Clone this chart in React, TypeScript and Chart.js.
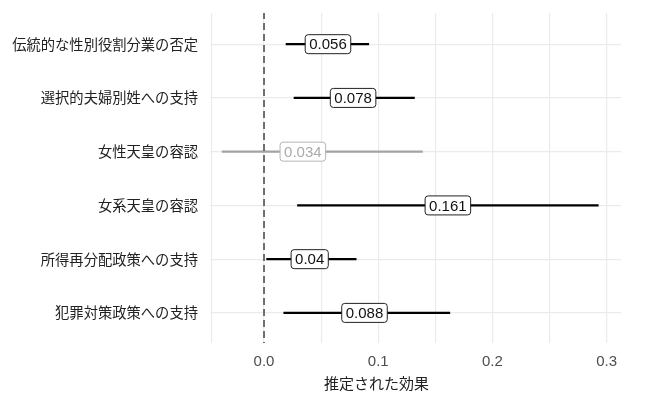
import React, { useEffect, useRef } from 'react';
import { Chart, registerables } from 'chart.js';

Chart.register(...registerables);

const categories = [
  '伝統的な性別役割分業の否定',
  '選択的夫婦別姓への支持',
  '女性天皇の容認',
  '女系天皇の容認',
  '所得再分配政策への支持',
  '犯罪対策政策への支持',
];
const estimates = [0.056, 0.078, 0.034, 0.161, 0.04, 0.088];
const lower = [0.019, 0.026, -0.037, 0.029, 0.002, 0.017];
const upper = [0.092, 0.132, 0.139, 0.293, 0.081, 0.163];
const significant = [true, true, false, true, true, true];
const xTicks = [-0.0455, 0, 0.05, 0.1, 0.15, 0.2, 0.25, 0.3];
const xTickLabels = ['', '0.0', '', '0.1', '', '0.2', '', '0.3'];
const xTitle = '推定された効果';

const labelFont = '15px "Liberation Sans", Arial, sans-serif';
const cjkFont = '"Noto Sans CJK JP", sans-serif';

// boxed value labels drawn on top of the estimate points
const valueLabels = {
  id: 'valueLabels',
  afterDatasetsDraw(chart: Chart) {
    const idx = chart.data.datasets.findIndex((d: any) => d.label === 'estimates');
    const meta = chart.getDatasetMeta(idx);
    const ctx = chart.ctx;
    ctx.save();
    ctx.font = labelFont;
    ctx.textAlign = 'center';
    ctx.textBaseline = 'middle';
    meta.data.forEach((el: any, i: number) => {
      const text = String(estimates[i]);
      const w = ctx.measureText(text).width + 8;
      const h = 19;
      const dark = significant[i];
      ctx.beginPath();
      ctx.roundRect(el.x - w / 2, el.y - h / 2, w, h, 3);
      ctx.fillStyle = '#ffffff';
      ctx.fill();
      ctx.lineWidth = 1;
      ctx.strokeStyle = dark ? '#222222' : '#b5b5b5';
      ctx.stroke();
      ctx.fillStyle = dark ? '#111111' : '#aaaaaa';
      ctx.fillText(text, el.x, el.y + 1);
    });
    ctx.restore();
  },
};

// x axis title, placed below the tick labels
const axisTitle = {
  id: 'axisTitle',
  afterDraw(chart: Chart) {
    const { ctx, chartArea } = chart;
    ctx.save();
    ctx.font = '15px ' + cjkFont;
    ctx.fillStyle = '#222222';
    ctx.textAlign = 'center';
    ctx.textBaseline = 'middle';
    const x = chartArea.left + (chartArea.right - chartArea.left) * 0.405;
    ctx.fillText(xTitle, x, chartArea.bottom + 40);
    ctx.restore();
  },
};

const App: React.FC = () => {
  const chartRef = useRef<HTMLCanvasElement>(null);

  useEffect(() => {
    document.body.style.margin = '0';
    if (!chartRef.current) return;
    const ctx = chartRef.current.getContext('2d');
    if (!ctx) return;

    const intervals = categories.map((c, i) => ({
      label: c,
      data: [
        { x: lower[i], y: i + 1 },
        { x: upper[i], y: i + 1 },
      ],
      showLine: true,
      borderColor: significant[i] ? '#000000' : '#a3a3a3',
      borderWidth: 2.2,
      pointRadius: 0,
    }));

    const chart = new Chart(ctx, {
      type: 'scatter',
      data: {
        datasets: [
          {
            label: 'zero',
            data: [
              { x: 0, y: 0.4 },
              { x: 0, y: 6.6 },
            ],
            showLine: true,
            borderColor: '#6a6a6a',
            borderWidth: 1.9,
            borderDash: [7, 4],
            pointRadius: 0,
          },
          {
            label: 'estimates',
            data: estimates.map((v, i) => ({ x: v, y: i + 1 })),
            pointRadius: 0,
          },
          ...intervals,
        ],
      },
      options: {
        animation: false,
        responsive: true,
        maintainAspectRatio: false,
        layout: { padding: { top: 13, right: 28, left: 0, bottom: 0 } },
        plugins: {
          legend: { display: false },
          tooltip: { enabled: false },
        },
        scales: {
          x: {
            type: 'linear',
            min: -0.0473,
            max: 0.3126,
            afterBuildTicks: (scale: any) => {
              scale.ticks = xTicks.map((v) => ({ value: v }));
            },
            afterFit: (scale: any) => {
              scale.height = 63;
              scale.paddingLeft = 0;
              scale.paddingRight = 0;
            },
            ticks: {
              autoSkip: false,
              maxRotation: 0,
              padding: 10,
              color: '#4d4d4d',
              font: { family: '"Liberation Sans", Arial, sans-serif', size: 15 },
              callback: (_v: any, i: number) => xTickLabels[i],
            },
            grid: { color: '#ebebeb', lineWidth: 1.2, drawTicks: false },
            border: { display: false },
          },
          y: {
            type: 'linear',
            reverse: true,
            min: 0.42,
            max: 6.56,
            afterBuildTicks: (scale: any) => {
              scale.ticks = categories.map((_c, i) => ({ value: i + 1 }));
            },
            afterFit: (scale: any) => {
              scale.width = 210;
              scale.paddingTop = 0;
              scale.paddingBottom = 0;
            },
            ticks: {
              autoSkip: false,
              padding: 12,
              color: '#222222',
              font: { family: cjkFont, size: 14.3 },
              callback: (_v: any, i: number) => categories[i],
            },
            grid: { color: '#ebebeb', lineWidth: 1.2, drawTicks: false },
            border: { display: false },
          },
        },
      },
      plugins: [valueLabels, axisTitle],
    });

    return () => {
      chart.destroy();
    };
  }, []);

  return (
    <div style={{ width: 649, height: 406, position: 'relative', background: '#ffffff' }}>
      <canvas ref={chartRef} />
    </div>
  );
};

export default App;
